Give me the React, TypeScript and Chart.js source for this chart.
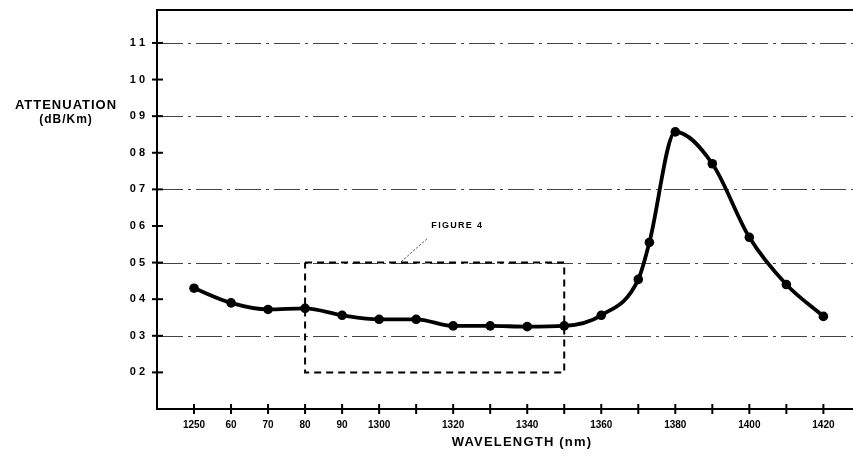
import React, { useEffect, useRef } from "react";
import { Chart, registerables } from "chart.js";

Chart.register(...registerables);

const xTickValues = [1250, 1260, 1270, 1280, 1290, 1300, 1310, 1320, 1330, 1340, 1350, 1360, 1370, 1380, 1390, 1400, 1410, 1420];
const xTickLabels = ["1250", "60", "70", "80", "90", "1300", "", "1320", "", "1340", "", "1360", "", "1380", "", "1400", "", "1420"];
const yTickValues = [0.2, 0.3, 0.4, 0.5, 0.6, 0.7, 0.8, 0.9, 1.0, 1.1];
const yTickLabels = ["0 2", "0 3", "0 4", "0 5", "0 6", "0 7", "0 8", "0 9", "1 0", "1 1"];
const gridValues = [0.3, 0.5, 0.7, 0.9, 1.1];

const wavelengths = [1250, 1260, 1270, 1280, 1290, 1300, 1310, 1320, 1330, 1340, 1350, 1360, 1370, 1373, 1380, 1390, 1400, 1410, 1420];
const attenuation = [0.43, 0.39, 0.372, 0.375, 0.356, 0.345, 0.345, 0.327, 0.327, 0.325, 0.327, 0.356, 0.454, 0.555, 0.857, 0.77, 0.569, 0.44, 0.353];

const boxX = [1280, 1350, 1350, 1280, 1280];
const boxY = [0.5, 0.5, 0.2, 0.2, 0.5];

const figureLabel = "FIGURE 4";
const yTitle = ["ATTENUATION", "(dB/Km)"];
const xTitle = "WAVELENGTH (nm)";

const overlayPlugin = {
  id: "overlay",
  beforeDatasetsDraw(chart: any) {
    const { ctx, chartArea, scales } = chart;
    const xs = scales.x;
    const ys = scales.y;
    ctx.save();
    // dash-dot grid lines
    ctx.strokeStyle = "#444";
    ctx.lineWidth = 1.2;
    ctx.setLineDash([26, 5, 3, 5]);
    gridValues.forEach((v) => {
      const y = Math.round(ys.getPixelForValue(v)) + 0.5;
      ctx.beginPath();
      ctx.moveTo(chartArea.left, y);
      ctx.lineTo(chartArea.right, y);
      ctx.stroke();
    });
    ctx.setLineDash([]);
    // top frame line
    ctx.strokeStyle = "#000";
    ctx.lineWidth = 2;
    ctx.beginPath();
    ctx.moveTo(chartArea.left - 1, chartArea.top);
    ctx.lineTo(chartArea.right, chartArea.top);
    ctx.stroke();
    // tick crosses
    yTickValues.forEach((v) => {
      const y = ys.getPixelForValue(v);
      ctx.beginPath();
      ctx.moveTo(chartArea.left - 5, y);
      ctx.lineTo(chartArea.left + 6, y);
      ctx.stroke();
    });
    xTickValues.forEach((v) => {
      const x = xs.getPixelForValue(v);
      ctx.beginPath();
      ctx.moveTo(x, chartArea.bottom - 5);
      ctx.lineTo(x, chartArea.bottom + 5);
      ctx.stroke();
    });
    // FIGURE 4 label and leader
    const lx = xs.getPixelForValue(1306);
    const ly = ys.getPixelForValue(0.5);
    ctx.strokeStyle = "#333";
    ctx.lineWidth = 1;
    ctx.setLineDash([2, 2]);
    ctx.beginPath();
    ctx.moveTo(lx, ly - 1);
    ctx.lineTo(lx + 27, ly - 25);
    ctx.stroke();
    ctx.setLineDash([]);
    ctx.fillStyle = "#000";
    ctx.font = "bold 9px 'Liberation Sans', Arial, sans-serif";
    (ctx as any).letterSpacing = "1.3px";
    ctx.textAlign = "left";
    ctx.textBaseline = "middle";
    ctx.fillText(figureLabel, lx + 30, ly - 37);
    // axis titles
    ctx.font = "bold 13px 'Liberation Sans', Arial, sans-serif";
    (ctx as any).letterSpacing = "1px";
    ctx.textAlign = "center";
    const ty = ys.getPixelForValue(0.93);
    ctx.fillText(yTitle[0], 66, ty);
    ctx.font = "bold 12px 'Liberation Sans', Arial, sans-serif";
    ctx.fillText(yTitle[1], 66, ty + 15);
    ctx.font = "bold 13px 'Liberation Sans', Arial, sans-serif";
    (ctx as any).letterSpacing = "1.2px";
    ctx.fillText(xTitle, 522, chartArea.bottom + 33);
    (ctx as any).letterSpacing = "0px";
    ctx.restore();
  },
};

export default function App() {
  const ref = useRef<HTMLCanvasElement | null>(null);
  useEffect(() => {
    if (!ref.current) return;
    const chart = new Chart(ref.current, {
      type: "scatter",
      data: {
        datasets: [
          {
            label: "Attenuation",
            data: wavelengths.map((w, i) => ({ x: w, y: attenuation[i] })),
            showLine: true,
            borderColor: "#000",
            backgroundColor: "#000",
            borderWidth: 3.8,
            pointRadius: 4.8,
            pointBackgroundColor: "#000",
            pointBorderWidth: 0,
            cubicInterpolationMode: "monotone",
          },
          {
            label: "Figure 4 region",
            data: boxX.map((x, i) => ({ x, y: boxY[i] })),
            showLine: true,
            borderColor: "#000",
            borderWidth: 2,
            borderDash: [7, 5],
            pointRadius: 0,
            tension: 0,
          },
        ],
      },
      options: {
        animation: false,
        responsive: true,
        maintainAspectRatio: false,
        layout: { autoPadding: false, padding: { top: 10, right: 0, left: 0, bottom: 0 } },
        plugins: { legend: { display: false }, tooltip: { enabled: false } },
        scales: {
          x: {
            type: "linear",
            min: 1240,
            max: 1428,
            afterBuildTicks: (s: any) => {
              s.ticks = xTickValues.map((v) => ({ value: v }));
            },
            afterFit: (s: any) => {
              s.height = 57;
              s.paddingLeft = 0;
              s.paddingRight = 0;
              s.paddingTop = 0;
              s.paddingBottom = 0;
            },
            ticks: {
              autoSkip: false,
              maxRotation: 0,
              padding: 2,
              color: "#000",
              font: { family: "'Liberation Sans', Arial, sans-serif", size: 10, weight: "bold" },
              callback: (v: any) => {
                const i = xTickValues.indexOf(Number(v));
                return i >= 0 ? xTickLabels[i] : "";
              },
            },
            grid: { display: false },
            border: { display: true, color: "#000", width: 2 },
          },
          y: {
            type: "linear",
            min: 0.1,
            max: 1.19,
            afterBuildTicks: (s: any) => {
              s.ticks = yTickValues.map((v) => ({ value: v }));
            },
            afterFit: (s: any) => {
              s.width = 157;
              s.paddingTop = 0;
              s.paddingBottom = 0;
              s.paddingLeft = 0;
              s.paddingRight = 0;
            },
            ticks: {
              autoSkip: false,
              padding: 4,
              color: "#000",
              font: { family: "'Liberation Sans', Arial, sans-serif", size: 11, weight: "bold" },
              callback: (v: any) => {
                const i = yTickValues.findIndex((t) => Math.abs(t - Number(v)) < 1e-6);
                return i >= 0 ? yTickLabels[i] : "";
              },
            },
            grid: { display: false },
            border: { display: true, color: "#000", width: 2 },
          },
        },
      },
      plugins: [overlayPlugin],
    });
    return () => chart.destroy();
  }, []);
  return (
    <div style={{ position: "fixed", left: 0, top: 0, width: 853, height: 466, background: "#fff" }}>
      <canvas ref={ref} />
    </div>
  );
}
